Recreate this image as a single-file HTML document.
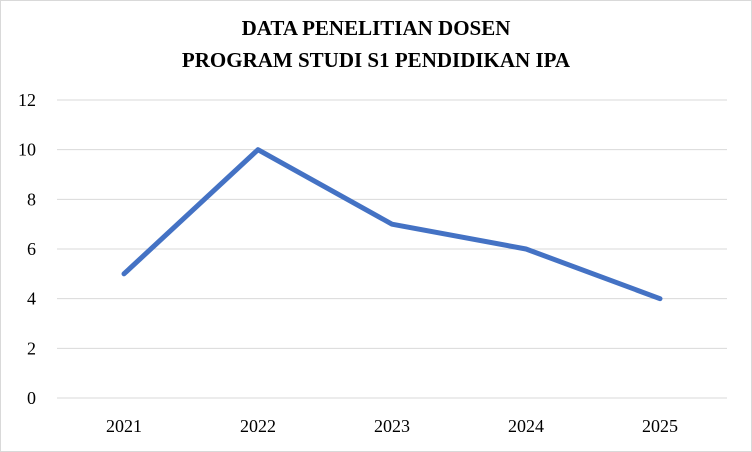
<!DOCTYPE html>
<html><head><meta charset="utf-8"><style>
body{margin:0;background:#fff}
svg{display:block}
text{font-family:"Liberation Serif",serif}
</style></head><body>
<svg id="chart" width="752" height="452">
<rect x="0.5" y="0.5" width="751" height="451" fill="#fff" stroke="#d9d9d9"/>
<text x="376" y="35" text-anchor="middle" font-size="21" font-weight="bold">DATA PENELITIAN DOSEN</text>
<text x="376" y="67" text-anchor="middle" font-size="21" font-weight="bold">PROGRAM STUDI S1 PENDIDIKAN IPA</text>
<g id="grid"></g><g id="yticks"></g><g id="xticks"></g><g id="series"></g>
</svg>
<script>
const categories=["2021","2022","2023","2024","2025"];
const values=[5,10,7,6,4];
const yTicks=[0,2,4,6,8,10,12];
const plotLeft=57,plotRight=727,plotTop=100,plotBottom=398,yMax=12;
const xs=i=>plotLeft+(plotRight-plotLeft)/categories.length*(i+0.5);
const ys=v=>plotBottom-(plotBottom-plotTop)*v/yMax;
const NS="http://www.w3.org/2000/svg";
const g=document.getElementById('grid'),yt=document.getElementById('yticks'),xt=document.getElementById('xticks'),s=document.getElementById('series');
yTicks.forEach(t=>{
 const l=document.createElementNS(NS,'line');
 
 
 l.setAttribute('x1',plotLeft);l.setAttribute('x2',plotRight);l.setAttribute('y1',ys(t));l.setAttribute('y2',ys(t));
 l.setAttribute('stroke','#d9d9d9');l.setAttribute('stroke-width','1');g.appendChild(l);
 const tx=document.createElementNS(NS,'text');
 
 
 tx.setAttribute('x',36);tx.setAttribute('y',ys(t)+6);tx.setAttribute('text-anchor','end');tx.setAttribute('font-size','18');
 tx.textContent=t;yt.appendChild(tx);
});
categories.forEach((c,i)=>{
 const tx=document.createElementNS(NS,'text');
 
 
 tx.setAttribute('x',xs(i));tx.setAttribute('y',432);tx.setAttribute('text-anchor','middle');tx.setAttribute('font-size','18');
 tx.textContent=c;xt.appendChild(tx);
});
const p=document.createElementNS(NS,'polyline');


p.setAttribute('points',values.map((v,i)=>xs(i)+','+ys(v)).join(' '));
p.setAttribute('fill','none');p.setAttribute('stroke','#4472c4');p.setAttribute('stroke-width','5');p.setAttribute('stroke-linejoin','round');p.setAttribute('stroke-linecap','round');
s.appendChild(p);
</script>
</body></html>
